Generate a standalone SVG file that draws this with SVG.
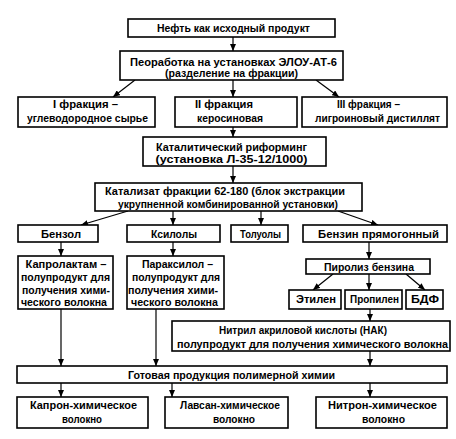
<svg xmlns="http://www.w3.org/2000/svg" width="456" height="439" viewBox="0 0 456 439">
<style>
rect{fill:#fff;stroke:#000;stroke-width:1.6}
text{font-family:"Liberation Sans",Arial,sans-serif;font-size:11px;font-weight:bold;fill:#000;text-anchor:middle}
.c line{stroke:#000;stroke-width:1.2;marker-end:url(#a)}
</style>
<defs>
<marker id="a" markerUnits="userSpaceOnUse" markerWidth="7" markerHeight="6" refX="7" refY="3" orient="auto"><path d="M0,0 L7,3 L0,6 z" fill="#000"/></marker>
</defs>
<rect x="0" y="0" width="456" height="439" style="stroke:none"/>
<g class="c" id="connectors">
<line x1="233" y1="37" x2="233" y2="51"/>
<line x1="135" y1="80" x2="113" y2="97"/>
<line x1="233" y1="80" x2="233" y2="97"/>
<line x1="316" y1="80" x2="339" y2="97"/>
<line x1="233" y1="127" x2="233" y2="137"/>
<line x1="233" y1="166" x2="233" y2="183"/>
<line x1="128" y1="211" x2="81" y2="225"/>
<line x1="173" y1="211" x2="173" y2="225"/>
<line x1="261" y1="211" x2="261" y2="225"/>
<line x1="338" y1="211" x2="378" y2="225"/>
<line x1="61" y1="242" x2="61" y2="256"/>
<line x1="173" y1="242" x2="173" y2="256"/>
<line x1="369" y1="242" x2="369" y2="259"/>
<line x1="333" y1="274" x2="313" y2="290"/>
<line x1="369" y1="274" x2="369" y2="290"/>
<line x1="406" y1="274" x2="425" y2="290"/>
<line x1="370" y1="309" x2="370" y2="321"/>
<line x1="370" y1="351" x2="370" y2="366"/>
<line x1="61" y1="309" x2="61" y2="366"/>
<line x1="156" y1="309" x2="156" y2="366"/>
<line x1="61" y1="383" x2="61" y2="397"/>
<line x1="172" y1="383" x2="172" y2="397"/>
<line x1="370" y1="383" x2="370" y2="397"/>
</g>
<g id="n_neft"><rect x="128" y="19" width="207" height="18"/><text x="233.5" y="32" textLength="153" lengthAdjust="spacingAndGlyphs">Нефть как исходный продукт</text></g>
<g id="n_elou"><rect x="120" y="51" width="223" height="29"/><text x="233.5" y="65.5" textLength="207" lengthAdjust="spacingAndGlyphs">Пеоработка на установках ЭЛОУ-АТ-6</text><text x="231.5" y="77" textLength="133" lengthAdjust="spacingAndGlyphs">(разделение на фракции)</text></g>
<g id="n_f1"><rect x="18" y="97" width="137" height="30"/><text x="85.5" y="108" textLength="65" lengthAdjust="spacingAndGlyphs">I фракция –</text><text x="87.5" y="121.5" textLength="121" lengthAdjust="spacingAndGlyphs">углеводородное сырье</text></g>
<g id="n_f2"><rect x="175" y="97" width="122" height="30"/><text x="224" y="108" textLength="58" lengthAdjust="spacingAndGlyphs">II фракция</text><text x="230" y="121.5" textLength="66" lengthAdjust="spacingAndGlyphs">керосиновая</text></g>
<g id="n_f3"><rect x="302" y="97" width="145" height="30"/><text x="368.5" y="108" textLength="63" lengthAdjust="spacingAndGlyphs">III фракция –</text><text x="377.5" y="121.5" textLength="125" lengthAdjust="spacingAndGlyphs">лигроиновый дистиллят</text></g>
<g id="n_reform"><rect x="143" y="137" width="183" height="29"/><text x="231.5" y="150.5" textLength="151" lengthAdjust="spacingAndGlyphs">Каталитический риформинг</text><text x="231.5" y="163" textLength="152" lengthAdjust="spacingAndGlyphs">(установка Л-35-12/1000)</text></g>
<g id="n_katal"><rect x="95" y="183" width="267" height="28"/><text x="225" y="195" textLength="240" lengthAdjust="spacingAndGlyphs">Катализат фракции 62-180 (блок экстракции</text><text x="228" y="207.5" textLength="220" lengthAdjust="spacingAndGlyphs">укрупненной комбинированной установки)</text></g>
<g id="n_benzol"><rect x="18" y="225" width="80" height="17"/><text x="61" y="237.5" textLength="40" lengthAdjust="spacingAndGlyphs">Бензол</text></g>
<g id="n_ksilol"><rect x="127" y="225" width="93" height="17"/><text x="174" y="237.5" textLength="46" lengthAdjust="spacingAndGlyphs">Ксилолы</text></g>
<g id="n_toluol"><rect x="231" y="225" width="57" height="17"/><text x="260.5" y="237.5" textLength="41" lengthAdjust="spacingAndGlyphs">Толуолы</text></g>
<g id="n_benzin"><rect x="303" y="225" width="144" height="17"/><text x="378.5" y="237.5" textLength="121" lengthAdjust="spacingAndGlyphs">Бензин прямогонный</text></g>
<g id="n_kaprolaktam"><rect x="18" y="256" width="95" height="53"/><text x="66" y="267.5" textLength="81" lengthAdjust="spacingAndGlyphs">Капролактам –</text><text x="65.5" y="280.5" textLength="89" lengthAdjust="spacingAndGlyphs">полупродукт для</text><text x="66" y="293.5" textLength="88" lengthAdjust="spacingAndGlyphs">получения хими-</text><text x="64" y="306" textLength="86" lengthAdjust="spacingAndGlyphs">ческого волокна</text></g>
<g id="n_paraksilol"><rect x="127" y="256" width="97" height="53"/><text x="177.5" y="267.5" textLength="71" lengthAdjust="spacingAndGlyphs">Параксилол –</text><text x="176" y="280.5" textLength="88" lengthAdjust="spacingAndGlyphs">полупродукт для</text><text x="173" y="293.5" textLength="90" lengthAdjust="spacingAndGlyphs">получения хими-</text><text x="174.5" y="306" textLength="87" lengthAdjust="spacingAndGlyphs">ческого волокна</text></g>
<g id="n_piroliz"><rect x="306" y="259" width="124" height="15"/><text x="369" y="270.5" textLength="90" lengthAdjust="spacingAndGlyphs">Пиролиз бензина</text></g>
<g id="n_etilen"><rect x="289" y="290" width="52" height="19"/><text x="316" y="303" textLength="40" lengthAdjust="spacingAndGlyphs">Этилен</text></g>
<g id="n_propilen"><rect x="345" y="290" width="57" height="19"/><text x="374.5" y="303" textLength="49" lengthAdjust="spacingAndGlyphs">Пропилен</text></g>
<g id="n_bdf"><rect x="406" y="290" width="37" height="19"/><text x="425" y="303" textLength="28" lengthAdjust="spacingAndGlyphs">БДФ</text></g>
<g id="n_nak"><rect x="172" y="321" width="278" height="30"/><text x="303" y="334" textLength="168" lengthAdjust="spacingAndGlyphs">Нитрил акриловой кислоты (НАК)</text><text x="312.5" y="348" textLength="271" lengthAdjust="spacingAndGlyphs">полупродукт для получения химического волокна</text></g>
<g id="n_gotovaya"><rect x="17" y="366" width="430" height="17"/><text x="231.5" y="378.5" textLength="207" lengthAdjust="spacingAndGlyphs">Готовая продукция полимерной химии</text></g>
<g id="n_kapron"><rect x="17" y="397" width="131" height="31"/><text x="83.5" y="409" textLength="107" lengthAdjust="spacingAndGlyphs">Капрон-химическое</text><text x="82" y="422.5" textLength="40" lengthAdjust="spacingAndGlyphs">волокно</text></g>
<g id="n_lavsan"><rect x="165" y="397" width="123" height="31"/><text x="230" y="409" textLength="100" lengthAdjust="spacingAndGlyphs">Лавсан-химическое</text><text x="234" y="422.5" textLength="42" lengthAdjust="spacingAndGlyphs">волокно</text></g>
<g id="n_nitron"><rect x="316" y="397" width="131" height="31"/><text x="382.5" y="409" textLength="109" lengthAdjust="spacingAndGlyphs">Нитрон-химическое</text><text x="383.5" y="422.5" textLength="43" lengthAdjust="spacingAndGlyphs">волокно</text></g>
</svg>
